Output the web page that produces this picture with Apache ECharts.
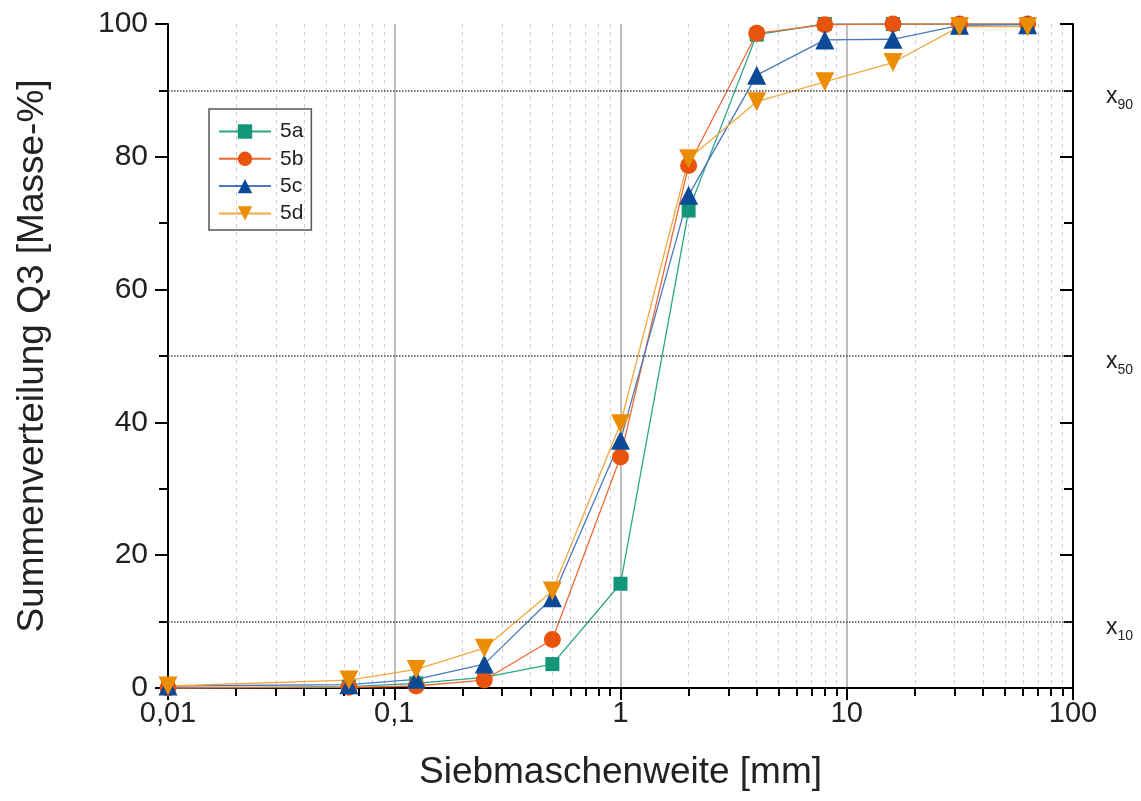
<!DOCTYPE html>
<html>
<head>
<meta charset="utf-8">
<script src="https://cdn.jsdelivr.net/npm/echarts@6/dist/echarts.min.js"></script>
<style>
  html, body { margin: 0; padding: 0; background: #fff; }
  #chart { width: 1141px; height: 801px; }
</style>
</head>
<body>
<div id="chart"></div>
<script>
// Siebweiten [mm]
var sizes = [0.01, 0.063, 0.125, 0.25, 0.5, 1, 2, 4, 8, 16, 31.5, 63];
// Summenverteilung Q3 [Masse-%]
var q5a = [0, 0.2, 0.7, 1.6, 3.6, 15.7, 71.9, 98.4, 100, 100, 100, 100];
var q5b = [0, 0.1, 0.3, 1.2, 7.3, 34.8, 78.7, 98.6, 99.9, 100, 100, 100];
var q5c = [0.3, 0.5, 1.3, 3.6, 13.6, 37.3, 74.2, 92.3, 97.6, 97.7, 99.8, 99.9];
var q5d = [0.3, 1.2, 2.8, 6.0, 14.6, 39.8, 79.7, 88.3, 91.3, 94.2, 99.6, 99.6];
var seriesNames = ['5a', '5b', '5c', '5d'];
// Kennwerte x10, x50, x90
var quantiles = [10, 50, 90];

var sansFont = '"Liberation Sans", Arial, sans-serif';

function pairs(ys) {
  return sizes.map(function (x, i) { return [x, ys[i]]; });
}

function lineSeries(name, ys, symbol, size, markerColor, lineColor) {
  return {
    name: name,
    type: 'line',
    data: pairs(ys),
    symbol: symbol,
    symbolSize: size,
    itemStyle: { color: markerColor },
    lineStyle: { color: lineColor, width: 1.3 },
    emphasis: { disabled: true },
    z: 3
  };
}

var series = [
  lineSeries(seriesNames[0], q5a, 'rect', 14, '#12967a', '#2aa585'),
  lineSeries(seriesNames[1], q5b, 'circle', 17, '#e8540e', '#ef6a32'),
  lineSeries(seriesNames[2], q5c, 'triangle', 19, '#0b4a97', '#4a78bd'),
  lineSeries(seriesNames[3], q5d, 'path://M0,0 L10,0 L5,9 Z', 19, '#ec8e05', '#f2a840')
];

// gepunktete Linien fuer x10 / x50 / x90
series[0].markLine = {
  silent: true,
  symbol: 'none',
  lineStyle: { type: 'dotted', color: '#444', width: 1.5 },
  label: {
    position: 'end',
    distance: 33,
    formatter: function (p) { return '{x|x}{s|' + p.value + '}'; },
    rich: {
      x: { fontFamily: sansFont, fontSize: 23, color: '#222', verticalAlign: 'bottom', padding: [12, 0, 0, 0] },
      s: { fontFamily: sansFont, fontSize: 14, color: '#222', verticalAlign: 'bottom', padding: [0, 0, -4, 0] }
    }
  },
  data: quantiles.map(function (q) { return { yAxis: q }; })
};

var option = {
  backgroundColor: '#fff',
  animation: false,
  grid: { left: 168, right: 68, top: 24, bottom: 113 },
  legend: {
    data: seriesNames,
    orient: 'vertical',
    left: 209,
    top: 109,
    itemWidth: 52,
    itemHeight: 18,
    itemGap: 6.3,
    padding: [12, 8, 6, 9],
    borderColor: '#555',
    borderWidth: 1.5,
    borderRadius: 0,
    textStyle: { fontFamily: sansFont, fontSize: 21, color: '#222', padding: [0, 0, 0, 4] }
  },
  xAxis: [{
    type: 'log',
    logBase: 10,
    min: 0.01,
    max: 100,
    interval: 1,
    position: 'bottom',
    name: 'Siebmaschenweite [mm]',
    nameLocation: 'middle',
    nameGap: 66,
    nameTextStyle: { fontFamily: sansFont, fontSize: 37, color: '#222' },
    axisLine: { lineStyle: { color: '#000', width: 2 } },
    axisTick: { inside: false, length: 12, lineStyle: { color: '#000', width: 2 } },
    minorTick: { show: true, splitNumber: 9, length: 8, lineStyle: { color: '#000', width: 2 } },
    axisLabel: {
      fontFamily: sansFont, fontSize: 29, color: '#222', margin: 11,
      formatter: function (v) { return String(v).replace('.', ','); }
    },
    splitLine: { show: true, lineStyle: { color: '#aaa', width: 1.5 } },
    minorSplitLine: { show: true, lineStyle: { color: '#d0d0d0', width: 1, type: [4, 4] } }
  }, {
    type: 'log',
    logBase: 10,
    min: 0.01,
    max: 100,
    interval: 1,
    position: 'top',
    axisLine: { lineStyle: { color: '#000', width: 2 } },
    axisTick: { inside: true, length: 12, lineStyle: { color: '#000', width: 2 } },
    minorTick: { show: true, splitNumber: 9, length: 8, lineStyle: { color: '#000', width: 2 } },
    axisLabel: { show: false },
    splitLine: { show: false }
  }],
  yAxis: [{
    type: 'value',
    min: 0,
    max: 100,
    interval: 20,
    position: 'left',
    name: 'Summenverteilung Q3 [Masse-%]',
    nameLocation: 'middle',
    nameGap: 117,
    nameTextStyle: { fontFamily: sansFont, fontSize: 37, color: '#222' },
    axisLine: { show: true, lineStyle: { color: '#000', width: 2 } },
    axisTick: { show: true, inside: false, length: 13, lineStyle: { color: '#000', width: 2 } },
    minorTick: { show: true, splitNumber: 2, length: 9, lineStyle: { color: '#000', width: 2 } },
    axisLabel: { fontFamily: sansFont, fontSize: 30, color: '#222', margin: 20 },
    splitLine: { show: false }
  }, {
    type: 'value',
    min: 0,
    max: 100,
    interval: 20,
    position: 'right',
    axisLine: { show: true, lineStyle: { color: '#000', width: 2 } },
    axisTick: { show: true, inside: true, length: 13, lineStyle: { color: '#000', width: 2 } },
    minorTick: { show: true, splitNumber: 2, length: 9, lineStyle: { color: '#000', width: 2 } },
    axisLabel: { show: false },
    splitLine: { show: false }
  }],
  series: series
};

var chart = echarts.init(document.getElementById('chart'));
chart.setOption(option);
</script>
</body>
</html>
